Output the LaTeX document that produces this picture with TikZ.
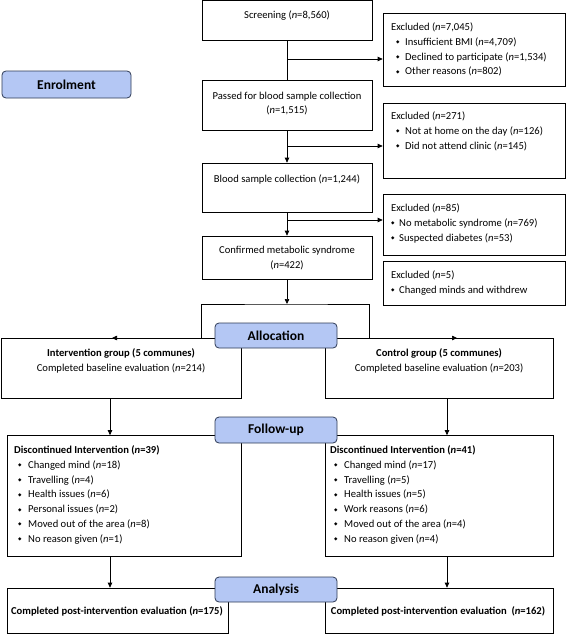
\documentclass[tikz,border=0pt]{standalone}
\usepackage{fontspec}
\setmainfont{Carlito}
\newfontfamily\symfont{DejaVu Sans}
\usetikzlibrary{fit,arrows.meta}
\definecolor{phasefill}{HTML}{B4C7F4}
\definecolor{phaseline}{HTML}{2E3A55}
\newcommand\dmd{\raisebox{1.6pt}{\symfont\fontsize{4.5}{4.5}\selectfont\char"25C6}}
\newcommand\bA{\makebox[14pt][l]{\hspace{5pt}\dmd}}
\newcommand\bB{\makebox[8pt][l]{\hspace{0pt}\dmd}}
\newcommand\bC{\makebox[14pt][l]{\hspace{4pt}\dmd}}
\newcommand\nn{\textit{n}}
\begin{document}
\begin{tikzpicture}[x=1pt,y=-1pt,
  box/.style={draw=black, line width=0.7pt, inner sep=0pt, fill=white},
  phase/.style={draw=phaseline, line width=0.8pt, fill=phasefill, rounded corners=4pt, inner sep=0pt},
  phasetxt/.style={font=\fontsize{13.5}{15}\selectfont\bfseries, inner sep=0pt},
  txt/.style={font=\fontsize{10.6}{14.8}\selectfont, inner sep=0pt},
  lst/.style={txt, align=left, anchor=north west},
  arr/.style={line width=0.7pt, -{Triangle[length=5pt,width=4.5pt]}},
  ln/.style={line width=0.7pt}]
\useasboundingbox (0,0) rectangle (567,634);
% main column
\node[box, fit={(202,0.5) (372,40)}] (scr) {};
\node[box, fit={(202,80) (372,130)}] (pass) {};
\node[box, fit={(202,163) (372,212)}] (blood) {};
\node[box, fit={(202,236) (372,279)}] (conf) {};
% excluded boxes
\node[box, fit={(383,13) (565,86)}] (ex1) {};
\node[box, fit={(383,103) (565,178)}] (ex2) {};
\node[box, fit={(383,194) (565,255)}] (ex3) {};
\node[box, fit={(383,261) (565,305)}] (ex4) {};
% groups
\node[box, fit={(1,338) (241,398.5)}] (intv) {};
\node[box, fit={(325,338) (553,398.5)}] (ctrl) {};
\node[box, fit={(7,435.5) (241,556)}] (dl) {};
\node[box, fit={(325,435.5) (553,556)}] (dr) {};
\node[box, fit={(7,588) (228,633)}] (fl) {};
\node[box, fit={(325,588) (553,633)}] (fr) {};
% texts main
\node[txt] (tscr) at (287,16) {Screening (\nn=8,560)};
\node[txt, align=center] (tpass) at (287,103.5) {Passed for blood sample collection\\(\nn=1,515)};
\node[txt] (tblood) at (287,179) {Blood sample collection (\nn=1,244)};
\node[txt, align=center] (tconf) at (287,258) {Confirmed metabolic syndrome\\(\nn=422)};
% excluded texts
\node[lst] (tex1) at (391,22.5) {Excluded (\nn=7,045)\\\bA Insufficient BMI (\nn=4,709)\\\bA Declined to participate (\nn=1,534)\\\bA Other reasons (\nn=802)};
\node[lst] (tex2) at (391,111.5) {Excluded (\nn=271)\\\bA Not at home on the day (\nn=126)\\\bA Did not attend clinic (\nn=145)};
\node[lst] (tex3) at (391,203.5) {Excluded (\nn=85)\\\bB No metabolic syndrome (\nn=769)\\\bB Suspected diabetes (\nn=53)};
\node[lst] (tex4) at (391,270.5) {Excluded (\nn=5)\\\bB Changed minds and withdrew};
% group texts
\node[txt, align=center] (tintv) at (121,361) {\textbf{Intervention group (5 communes)}\\Completed baseline evaluation (\nn=214)};
\node[txt, align=center] (tctrl) at (439,361) {\textbf{Control group (5 communes)}\\Completed baseline evaluation (\nn=203)};
\node[lst] (tdl) at (14,445.5) {\textbf{Discontinued Intervention (\nn=39)}\\\bC Changed mind (\nn=18)\\\bC Travelling (\nn=4)\\\bC Health issues (\nn=6)\\\bC Personal issues (\nn=2)\\\bC Moved out of the area (\nn=8)\\\bC No reason given (\nn=1)};
\node[lst] (tdr) at (330,445.5) {\textbf{Discontinued Intervention (\nn=41)}\\\bC Changed mind (\nn=17)\\\bC Travelling (\nn=5)\\\bC Health issues (\nn=5)\\\bC Work reasons (\nn=6)\\\bC Moved out of the area (\nn=4)\\\bC No reason given (\nn=4)};
\node[txt, font=\fontsize{10.6}{12}\selectfont\bfseries] (tfl) at (117,611) {Completed post-intervention evaluation (\nn=175)};
\node[txt, font=\fontsize{10.6}{12}\selectfont\bfseries] (tfr) at (438,611) {Completed post-intervention evaluation\ \ (\nn=162)};
% connectors main
\draw[ln] (scr.south) -- (pass.north);
\coordinate (b1) at (287,59);
\draw[arr] (b1) -- (ex1.west |- b1);
\draw[arr] (pass.south) -- (blood.north);
\coordinate (b2) at (287,146);
\draw[arr] (b2) -- (ex2.west |- b2);
\draw[arr] (blood.south) -- (conf.north);
\coordinate (b3) at (287,220);
\draw[arr] (b3) -- (ex3.west |- b3);
\coordinate (brk) at (287,304);
\draw[arr] (conf.south) -- (brk);
\coordinate (bl) at (201,338);
\coordinate (br) at (369,338);
\draw[ln] (bl) |- (brk) -| (br);
\coordinate (al) at (112,338);
\coordinate (ar) at (457,338);
\draw[arr] (bl) -- (al);
\draw[arr] (br) -- (ar);
\coordinate (c1) at (110,398.5);
\coordinate (c2) at (447,398.5);
\draw[arr] (c1) -- (c1 |- dl.north);
\draw[arr] (c2) -- (c2 |- dr.north);
\coordinate (c3) at (110,556);
\coordinate (c4) at (447,556);
\draw[arr] (c3) -- (c3 |- fl.north);
\draw[arr] (c4) -- (c4 |- fr.north);
% phase labels
\node[phase, fit={(2,71) (131,98)}] (enr) {};
\node[phasetxt] (tenr) at (enr.center) {Enrolment};
\node[phase, fit={(215,323) (337,348)}] (alloc) {};
\node[phasetxt] (talloc) at (alloc.center) {Allocation};
\node[phase, fit={(215,417) (337,443)}] (fu) {};
\node[phasetxt] (tfu) at (fu.center) {Follow-up};
\node[phase, fit={(215,577) (337,602)}] (an) {};
\node[phasetxt] (tan) at (an.center) {Analysis};
\end{tikzpicture}
\end{document}
